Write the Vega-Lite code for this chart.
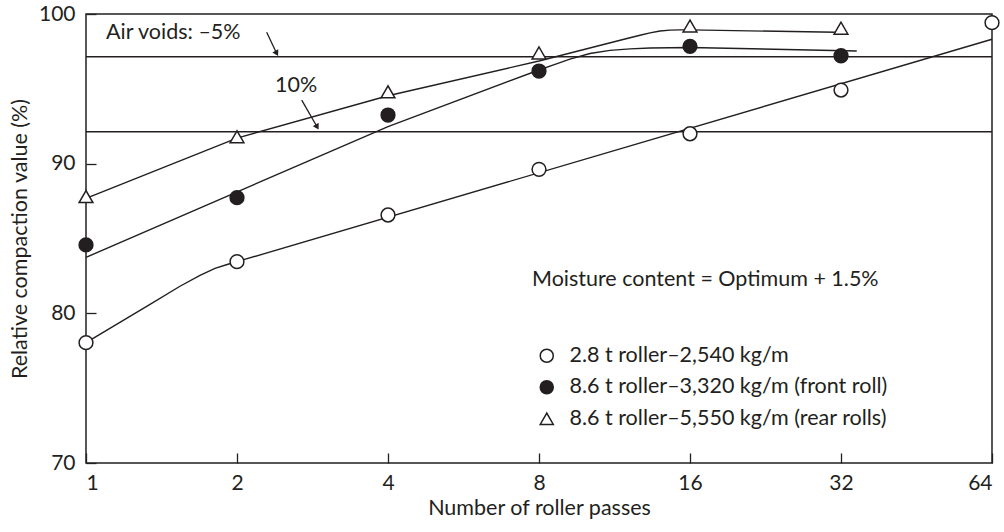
{
  "$schema": "https://vega.github.io/schema/vega-lite/v6.json",
  "width": 906,
  "height": 449,
  "autosize": {"type": "none"},
  "padding": {"left": 86, "top": 14, "right": 12, "bottom": 69},
  "background": "white",
  "config": {
    "font": "Lato",
    "view": {"stroke": "#231f20", "strokeWidth": 1.5},
    "axis": {
      "domain": false, "grid": false, "ticks": true,
      "tickColor": "#231f20", "tickWidth": 1.3, "tickSize": -10,
      "labelFont": "Lato", "labelFontSize": 21, "labelColor": "#231f20",
      "titleFont": "Lato", "titleFontSize": 21.5, "titleFontWeight": "normal", "titleColor": "#231f20"
    },
    "legend": {
      "orient": "none", "legendX": 450, "legendY": 331, "padding": 0,
      "labelFont": "Lato", "labelFontSize": 21.5, "labelColor": "#231f20", "labelLimit": 0,
      "symbolSize": 170, "symbolStrokeWidth": 1.5, "symbolStrokeColor": "#231f20",
      "rowPadding": 8.5, "labelOffset": 12
    }
  },
  "datasets": {
    "points": [
      {"series": "2.8 t roller–2,540 kg/m", "passes": 1, "value": 78.04},
      {"series": "2.8 t roller–2,540 kg/m", "passes": 2, "value": 83.45},
      {"series": "2.8 t roller–2,540 kg/m", "passes": 4, "value": 86.57},
      {"series": "2.8 t roller–2,540 kg/m", "passes": 8, "value": 89.62},
      {"series": "2.8 t roller–2,540 kg/m", "passes": 16, "value": 92.0},
      {"series": "2.8 t roller–2,540 kg/m", "passes": 32, "value": 94.92},
      {"series": "2.8 t roller–2,540 kg/m", "passes": 64, "value": 99.42},
      {"series": "8.6 t roller–3,320 kg/m (front roll)", "passes": 1, "value": 84.57},
      {"series": "8.6 t roller–3,320 kg/m (front roll)", "passes": 2, "value": 87.73},
      {"series": "8.6 t roller–3,320 kg/m (front roll)", "passes": 4, "value": 93.25},
      {"series": "8.6 t roller–3,320 kg/m (front roll)", "passes": 8, "value": 96.19},
      {"series": "8.6 t roller–3,320 kg/m (front roll)", "passes": 16, "value": 97.84},
      {"series": "8.6 t roller–3,320 kg/m (front roll)", "passes": 32, "value": 97.21},
      {"series": "8.6 t roller–5,550 kg/m (rear rolls)", "passes": 1, "value": 87.8},
      {"series": "8.6 t roller–5,550 kg/m (rear rolls)", "passes": 2, "value": 91.8},
      {"series": "8.6 t roller–5,550 kg/m (rear rolls)", "passes": 4, "value": 94.8},
      {"series": "8.6 t roller–5,550 kg/m (rear rolls)", "passes": 8, "value": 97.4},
      {"series": "8.6 t roller–5,550 kg/m (rear rolls)", "passes": 16, "value": 99.2},
      {"series": "8.6 t roller–5,550 kg/m (rear rolls)", "passes": 32, "value": 99.05}
    ],
    "curves": [
      {"series": "a", "passes": 1, "value": 78.04},
      {"series": "a", "passes": 1.3416, "value": 80.6},
      {"series": "a", "passes": 1.5394, "value": 81.81},
      {"series": "a", "passes": 1.6876, "value": 82.53},
      {"series": "a", "passes": 1.8079, "value": 83.0},
      {"series": "a", "passes": 1.9191, "value": 83.28},
      {"series": "a", "passes": 2, "value": 83.45},
      {"series": "a", "passes": 64, "value": 98.31},
      {"series": "b", "passes": 1, "value": 83.74},
      {"series": "b", "passes": 4, "value": 92.48},
      {"series": "b", "passes": 8, "value": 96.26},
      {"series": "b", "passes": 8.61, "value": 96.63},
      {"series": "b", "passes": 9.22, "value": 96.99},
      {"series": "b", "passes": 10.11, "value": 97.36},
      {"series": "b", "passes": 11.08, "value": 97.57},
      {"series": "b", "passes": 12.15, "value": 97.67},
      {"series": "b", "passes": 13.32, "value": 97.73},
      {"series": "b", "passes": 16, "value": 97.76},
      {"series": "b", "passes": 34.4, "value": 97.53},
      {"series": "c", "passes": 1, "value": 87.68},
      {"series": "c", "passes": 2, "value": 91.71},
      {"series": "c", "passes": 4, "value": 94.54},
      {"series": "c", "passes": 8, "value": 96.86},
      {"series": "c", "passes": 11.98, "value": 98.36},
      {"series": "c", "passes": 12.72, "value": 98.58},
      {"series": "c", "passes": 13.32, "value": 98.74},
      {"series": "c", "passes": 13.94, "value": 98.86},
      {"series": "c", "passes": 14.6, "value": 98.92},
      {"series": "c", "passes": 15.29, "value": 98.94},
      {"series": "c", "passes": 16, "value": 98.94},
      {"series": "c", "passes": 31.3, "value": 98.78}
    ],
    "hlines": [{"value": 97.15}, {"value": 92.14}],
    "notes": [
      {"passes": 1.096, "value": 98.73, "text": "Air voids: –5%"},
      {"passes": 2.381, "value": 95.19, "text": "10%"},
      {"passes": 7.747, "value": 82.23, "text": "Moisture content = Optimum + 1.5%"}
    ],
    "arrows": [
      {"passes": 2.292, "value": 98.78, "passes2": 2.4, "value2": 97.36, "angle": 331},
      {"passes": 2.692, "value": 94.25, "passes2": 2.89, "value2": 92.45, "angle": 330}
    ]
  },
  "layer": [
    {
      "data": {"name": "hlines"},
      "mark": {"type": "rule", "stroke": "#231f20", "strokeWidth": 1.5},
      "encoding": {"y": {"field": "value", "type": "quantitative", "scale": {"domain": [70, 100], "nice": false}}}
    },
    {
      "data": {"name": "curves"},
      "mark": {"type": "line", "stroke": "#231f20", "strokeWidth": 1.4, "interpolate": "linear"},
      "encoding": {
        "x": {"field": "passes", "type": "quantitative"},
        "y": {"field": "value", "type": "quantitative"},
        "detail": {"field": "series"}
      }
    },
    {
      "data": {"name": "points"},
      "mark": {"type": "point", "filled": true, "strokeWidth": 1.5, "opacity": 1, "size": 190},
      "encoding": {
        "x": {
          "field": "passes", "type": "quantitative",
          "scale": {"type": "log", "base": 2, "domain": [1, 64], "nice": false},
          "axis": {"values": [1, 2, 4, 8, 16, 32, 64], "format": "d", "title": "Number of roller passes", "labelPadding": 19, "titlePadding": 4}
        },
        "y": {
          "field": "value", "type": "quantitative",
          "scale": {"domain": [70, 100], "nice": false},
          "axis": {"values": [70, 80, 90, 100], "title": "Relative compaction value (%)", "labelPadding": 21, "titlePadding": 7}
        },
        "shape": {
          "field": "series", "type": "nominal",
          "scale": {"domain": ["2.8 t roller–2,540 kg/m", "8.6 t roller–3,320 kg/m (front roll)", "8.6 t roller–5,550 kg/m (rear rolls)"], "range": ["circle", "circle", "triangle-up"]},
          "legend": {"title": null}
        },
        "fill": {
          "field": "series", "type": "nominal",
          "scale": {"domain": ["2.8 t roller–2,540 kg/m", "8.6 t roller–3,320 kg/m (front roll)", "8.6 t roller–5,550 kg/m (rear rolls)"], "range": ["white", "#231f20", "white"]},
          "legend": {"title": null}
        },
        "stroke": {
          "field": "series", "type": "nominal",
          "scale": {"domain": ["2.8 t roller–2,540 kg/m", "8.6 t roller–3,320 kg/m (front roll)", "8.6 t roller–5,550 kg/m (rear rolls)"], "range": ["#231f20", "#231f20", "#231f20"]},
          "legend": {"title": null}
        }
      }
    },
    {
      "data": {"name": "notes"},
      "mark": {"type": "text", "align": "left", "baseline": "middle", "fontSize": 21.5, "font": "Lato", "color": "#231f20"},
      "encoding": {
        "x": {"field": "passes", "type": "quantitative"},
        "y": {"field": "value", "type": "quantitative"},
        "text": {"field": "text"}
      }
    },
    {
      "data": {"name": "arrows"},
      "mark": {"type": "rule", "stroke": "#231f20", "strokeWidth": 1.3},
      "encoding": {
        "x": {"field": "passes", "type": "quantitative"},
        "y": {"field": "value", "type": "quantitative"},
        "x2": {"field": "passes2"},
        "y2": {"field": "value2"}
      }
    },
    {
      "data": {"name": "arrows"},
      "mark": {"type": "point", "shape": "triangle-down", "filled": true, "color": "#231f20", "opacity": 1, "size": 45},
      "encoding": {
        "x": {"field": "passes2", "type": "quantitative"},
        "y": {"field": "value2", "type": "quantitative"},
        "angle": {"field": "angle", "type": "quantitative", "scale": null}
      }
    }
  ]
}
